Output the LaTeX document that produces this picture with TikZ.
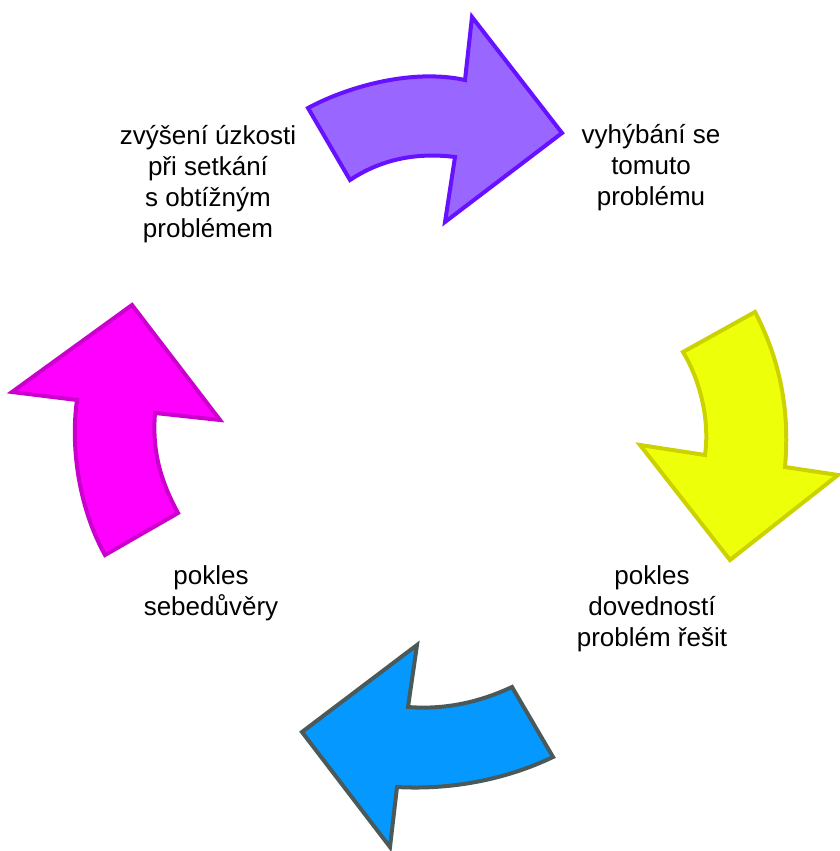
\documentclass[tikz,border=0pt]{standalone}
\usepackage{fontspec}
\setmainfont{Liberation Sans}
\definecolor{purfill}{HTML}{9966FF}
\definecolor{purline}{HTML}{6611FF}
\definecolor{yelfill}{HTML}{EEFF0A}
\definecolor{yelline}{HTML}{CCD200}
\definecolor{blufill}{HTML}{0599FF}
\definecolor{bluline}{HTML}{4A5A5A}
\definecolor{magfill}{HTML}{FF00FF}
\definecolor{magline}{HTML}{CC00CC}
\tikzset{
  arrowshape/.style={line width=4pt, line join=miter},
  label/.style={align=center, font=\fontsize{26}{31}\selectfont, inner sep=0pt}
}
\begin{document}
\begin{tikzpicture}[x=1pt,y=-1pt]
\useasboundingbox (0,0) rectangle (840,851);
% purple arrow
\draw[arrowshape, fill=purfill, draw=purline]
  (308,108) .. controls (345,88) and (410,68) .. (465,80) -- (472,17) -- (562,133)
  -- (445,222) -- (455,157) .. controls (415,152) and (380,160) .. (350,180) -- cycle;
% yellow arrow
\draw[arrowshape, fill=yelfill, draw=yelline]
  (755,312) .. controls (780,360) and (790,410) .. (785,467) -- (838,475) -- (730,560)
  -- (640,445) -- (705,455) .. controls (710,420) and (700,380) .. (683,352) -- cycle;
% blue arrow
\draw[arrowshape, fill=blufill, draw=bluline]
  (512,687) .. controls (480,702) and (445,710) .. (408,707) -- (417,645) -- (302,732)
  -- (390,847) -- (397,787) .. controls (450,790) and (505,780) .. (553,757) -- cycle;
% magenta arrow
\draw[arrowshape, fill=magfill, draw=magline]
  (178,513) .. controls (160,480) and (152,450) .. (155,413) -- (220,420) -- (132,305)
  -- (12,392) -- (77,400) .. controls (70,450) and (80,510) .. (105,555) -- cycle;
% labels
\node[label] (t1) at (208,184) {zvýšení úzkosti\\při setkání\\s obtížným\\problémem};
\node[label] (t2) at (651,168) {vyhýbání se\\tomuto\\problému};
\node[label] (t3) at (652,609) {pokles\\dovedností\\problém řešit};
\node[label] (t4) at (211,593) {pokles\\sebedůvěry};
\end{tikzpicture}
\end{document}
